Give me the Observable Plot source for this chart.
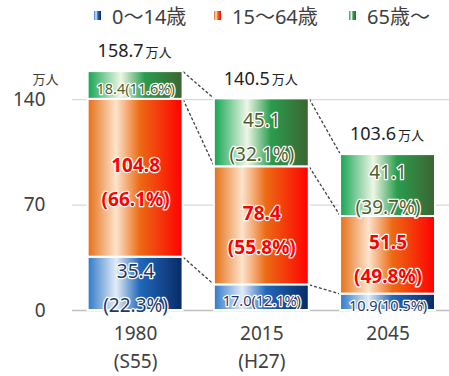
<!DOCTYPE html>
<html><head><meta charset="utf-8">
<script src="https://cdn.jsdelivr.net/npm/d3@7"></script>
<script src="https://cdn.jsdelivr.net/npm/@observablehq/plot@0.6"></script>
<style>
body{margin:0;background:#fff;font-family:"Noto Sans","Noto Sans CJK JP",sans-serif;}
#legend{height:32px;position:relative;width:449px;}
.item{position:absolute;top:0;display:flex;align-items:center;height:30px;font-size:20px;color:#404040;white-space:nowrap;}
.sw{width:7px;height:9px;margin-right:11px;}
</style></head><body>
<div id="legend"></div>
<div id="chart"></div>
<script>
// ---- data ----
const years = ["1980", "2015", "2045"];
const eras = ["(S55)", "(H27)", ""];
const groups = ["0～14歳", "15～64歳", "65歳～"];
const young = [35.4, 17.0, 10.9];
const working = [104.8, 78.4, 51.5];
const elderly = [18.4, 45.1, 41.1];
const youngPct = ["22.3%", "12.1%", "10.5%"];
const workingPct = ["66.1%", "55.8%", "49.8%"];
const elderlyPct = ["11.6%", "32.1%", "39.7%"];
const totals = [158.7, 140.5, 103.6];
const yTicks = [0, 70, 140];

// ---- styles ----
const FONT = '"Noto Sans","Noto Sans CJK JP",sans-serif';
const gradIds = ["gBlue", "gOrange", "gGreen"];
const gradStops = [
  [[0, "#2f78c8"], [0.3, "#e3ecf7"], [0.55, "#2168bb"], [1, "#082a66"]],
  [[0, "#e66f16"], [0.3, "#fde3cc"], [0.55, "#ec6a14"], [1, "#ff0000"]],
  [[0, "#14a552"], [0.35, "#eef6e6"], [0.6, "#2a9d4e"], [1, "#3b6430"]]
];
const labelFill = ["#1f3864", "#ff0000", "#4f5f2f"];
const labelWeight = ["normal", "bold", "normal"];
const hw = 0.376; // half bar width in category units

// legend
const legendX = [94, 214, 349];
const leg = document.getElementById("legend");
groups.forEach((g, k) => {
  const it = document.createElement("div");
  it.className = "item";
  it.style.left = legendX[k] + "px";
  const sw = document.createElement("span");
  sw.className = "sw";
  sw.style.background = "linear-gradient(to right," + gradStops[k].map(([o, c]) => c + " " + (o * 100) + "%").join(",") + ")";
  it.appendChild(sw);
  it.appendChild(document.createTextNode(g));
  leg.appendChild(it);
});

// build rows
const series = [young, working, elderly];
const pcts = [youngPct, workingPct, elderlyPct];
const rows = [];
years.forEach((yr, i) => {
  let cum = 0;
  series.forEach((s, k) => {
    const v = s[i];
    rows.push({i, k, v, y1: cum, y2: cum + v,
      label: v < 20 ? `${v.toFixed(1)}(${pcts[k][i]})` : `${v.toFixed(1)}\n(${pcts[k][i]})`});
    cum += v;
  });
});
const boundary = (i, k) => rows.find(r => r.i === i && r.k === k).y2;
const links = [];
for (let i = 0; i < years.length - 1; i++) {
  for (let k = 0; k < 3; k++) {
    links.push({x1: i + hw, x2: i + 1 - hw, y1: boundary(i, k), y2: boundary(i + 1, k)});
  }
}

const marks = [
  Plot.ruleY(yTicks, {stroke: d => d === 0 ? "#bfbfbf" : "#d9d9d9", strokeWidth: 1.3}),
  Plot.link(links, {x1: "x1", x2: "x2", y1: "y1", y2: "y2", stroke: "#404040", strokeWidth: 1.3, strokeDasharray: "3,2"}),
  ...groups.map((g, k) => Plot.rectY(rows.filter(r => r.k === k), {
    x1: d => d.i - hw, x2: d => d.i + hw, y1: "y1", y2: "y2",
    fill: `url(#${gradIds[k]})`, stroke: "white", strokeWidth: 2
  })),
  ...groups.map((g, k) => Plot.text(rows.filter(r => r.k === k), {
    x: "i", y: d => (d.y1 + d.y2) / 2, text: "label",
    fill: labelFill[k], fontWeight: labelWeight[k],
    fontSize: d => d.v < 20 ? 14.5 : 19, lineHeight: 1.8,
    stroke: "white", strokeWidth: 2.5
  })),
  Plot.text(totals, {x: (d, i) => i, y: d => d, text: d => d.toFixed(1), dy: -20, dx: 8, textAnchor: "end", fontSize: 18, fill: "#222"}),
  Plot.text(totals, {x: (d, i) => i, y: d => d, text: () => "万人", dy: -19, dx: 10, textAnchor: "start", fontSize: 13, fill: "#222"}),
  Plot.text(["万人"], {frameAnchor: "top-left", dx: -40, dy: 5, fontSize: 13, fill: "#404040"}),
  Plot.axisY({ticks: yTicks, tickSize: 0, tickPadding: 27, label: null, fontSize: 19}),
  Plot.axisX({ticks: [0, 1, 2], tickFormat: i => eras[i] ? `${years[i]}\n${eras[i]}` : years[i],
    tickSize: 0, tickPadding: 9, label: null, fontSize: 19, lineHeight: 1.5})
];

const svg = Plot.plot({
  width: 449,
  height: 344,
  marginLeft: 72,
  marginRight: 0,
  marginTop: 37,
  marginBottom: 66,
  style: {fontSize: "19px", fontFamily: FONT, color: "#404040", background: "white"},
  x: {type: "linear", domain: [-0.5, 2.487]},
  y: {domain: [0, 160]},
  marks
});

// gradient defs
const defs = d3.select(svg).insert("defs", ":first-child");
gradIds.forEach((id, k) => {
  const lg = defs.append("linearGradient").attr("id", id).attr("x1", "0").attr("x2", "1").attr("y1", "0").attr("y2", "0");
  gradStops[k].forEach(([o, c]) => lg.append("stop").attr("offset", o).attr("stop-color", c));
});
document.getElementById("chart").appendChild(svg);
</script>
</body></html>
